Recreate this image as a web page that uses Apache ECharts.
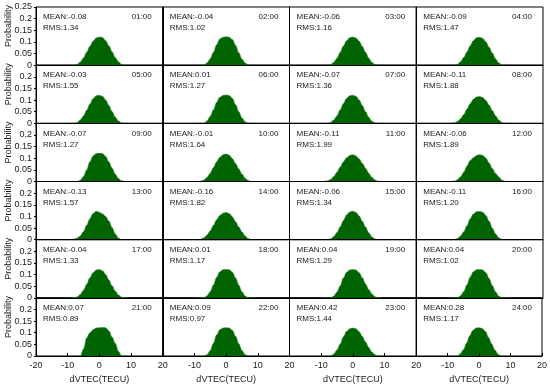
<!DOCTYPE html>
<html>
<head>
<meta charset="utf-8">
<script src="https://cdn.jsdelivr.net/npm/echarts@6/dist/echarts.min.js"></script>
<style>html,body{margin:0;padding:0;background:#fff}#c{width:550px;height:385px}</style>
</head>
<body>
<div id="c"></div>
<script>
// ---- data ----
const bins = [-9,-8,-7,-6,-5,-4,-3,-2,-1,0,1,2,3,4,5,6,7,8,9];
const hours = ['01:00','02:00','03:00','04:00','05:00','06:00','07:00','08:00','09:00','10:00','11:00','12:00',
               '13:00','14:00','15:00','16:00','17:00','18:00','19:00','20:00','21:00','22:00','23:00','24:00'];
const means = ['-0.08','-0.04','-0.06','-0.09','-0.03','0.01','-0.07','-0.11','-0.07','-0.01','-0.11','-0.06',
               '-0.13','-0.16','-0.06','-0.11','-0.04','0.01','0.04','0.04','0.07','0.09','0.42','0.28'];
const rmsVals = ['1.34','1.02','1.16','1.47','1.55','1.27','1.36','1.88','1.27','1.64','1.99','1.89',
                 '1.57','1.82','1.34','1.20','1.33','1.17','1.29','1.02','0.89','0.97','1.44','1.17'];
const xTicks = [-20,-10,0,10,20];
const yTicks = [0,0.05,0.1,0.15,0.2,0.25];

const p01 = [0,0,0.004,0.014,0.031,0.056,0.081,0.103,0.117,0.121,0.119,0.105,0.083,0.058,0.033,0.015,0.004,0,0];
const p02 = [0,0,0,0.010,0.028,0.055,0.088,0.113,0.120,0.122,0.120,0.110,0.085,0.053,0.026,0.009,0,0,0];
const p03 = [0,0,0.003,0.013,0.030,0.055,0.082,0.105,0.118,0.121,0.117,0.103,0.080,0.055,0.030,0.012,0.003,0,0];
const p04 = [0,0,0.004,0.015,0.033,0.057,0.083,0.105,0.118,0.120,0.115,0.100,0.077,0.052,0.028,0.010,0.002,0,0];
const p05 = [0,0,0.004,0.015,0.032,0.056,0.083,0.106,0.119,0.121,0.116,0.100,0.077,0.051,0.027,0.010,0.002,0,0];
const p06 = [0,0,0,0.011,0.030,0.058,0.090,0.112,0.120,0.122,0.120,0.107,0.080,0.050,0.023,0.007,0,0,0];
const p07 = [0,0,0.004,0.015,0.033,0.058,0.085,0.107,0.119,0.121,0.116,0.100,0.076,0.050,0.026,0.009,0.002,0,0];
const p08 = [0,0.002,0.008,0.020,0.038,0.061,0.084,0.103,0.113,0.115,0.111,0.098,0.078,0.055,0.033,0.015,0.004,0,0];
const p09 = [0,0,0,0.006,0.022,0.050,0.085,0.110,0.120,0.121,0.120,0.108,0.085,0.058,0.032,0.013,0.003,0,0];
const p10 = [0,0.001,0.006,0.018,0.036,0.060,0.085,0.104,0.115,0.118,0.113,0.098,0.077,0.054,0.032,0.014,0.004,0,0];
const p11 = [0,0.003,0.009,0.022,0.040,0.062,0.084,0.102,0.112,0.115,0.110,0.097,0.078,0.057,0.036,0.018,0.006,0.001,0];
const p12 = [0,0.002,0.008,0.020,0.040,0.066,0.090,0.102,0.112,0.115,0.112,0.100,0.080,0.056,0.035,0.020,0.006,0.001,0];
const p13 = [0,0.002,0.007,0.017,0.035,0.062,0.090,0.112,0.122,0.118,0.110,0.100,0.080,0.052,0.025,0.007,0,0,0];
const p14 = [0,0.002,0.008,0.020,0.038,0.062,0.086,0.104,0.114,0.117,0.112,0.098,0.077,0.054,0.033,0.016,0.005,0,0];
const p15 = [0,0,0.004,0.014,0.031,0.055,0.082,0.106,0.119,0.122,0.117,0.102,0.079,0.054,0.030,0.012,0.003,0,0];
const p16 = [0,0.001,0.005,0.016,0.034,0.060,0.089,0.110,0.120,0.121,0.118,0.104,0.079,0.050,0.025,0.008,0.001,0,0];
const p17 = [0,0,0.004,0.015,0.033,0.058,0.086,0.108,0.120,0.122,0.116,0.100,0.077,0.052,0.029,0.012,0.003,0,0];
const p18 = [0,0,0,0.009,0.027,0.055,0.088,0.112,0.121,0.122,0.121,0.110,0.085,0.054,0.026,0.008,0,0,0];
const p19 = [0,0,0,0.008,0.025,0.052,0.085,0.110,0.120,0.122,0.120,0.108,0.086,0.060,0.036,0.017,0.005,0,0];
const p20 = [0,0,0,0.009,0.027,0.056,0.089,0.112,0.121,0.122,0.120,0.108,0.083,0.053,0.026,0.008,0,0,0];
const p21 = [0,0,0,0,0.030,0.078,0.100,0.113,0.120,0.121,0.122,0.121,0.108,0.082,0.055,0.020,0.001,0,0];
const p22 = [0,0,0,0.006,0.024,0.055,0.090,0.113,0.120,0.121,0.120,0.110,0.085,0.053,0.024,0.006,0,0,0];
const p23 = [0,0,0,0.009,0.026,0.052,0.082,0.105,0.117,0.120,0.117,0.104,0.084,0.060,0.037,0.017,0.005,0,0];
const p24 = [0,0,0,0.009,0.027,0.055,0.087,0.110,0.120,0.121,0.118,0.105,0.080,0.052,0.026,0.008,0,0,0];
const panels = [p01,p02,p03,p04,p05,p06,p07,p08,p09,p10,p11,p12,p13,p14,p15,p16,p17,p18,p19,p20,p21,p22,p23,p24];

// ---- layout ----
const left0 = 36, colW = 126.75, top0 = 7, rowH = 58.17;
const nCols = 4, nRows = 6;
const FONT = '"Liberation Sans", Arial, sans-serif';
const TXT = '#1a1a1a';
const GREEN = '#006400';

const grids = [], xAxes = [], yAxes = [], series = [], graphics = [];
panels.forEach((vals, i) => {
  const r = Math.floor(i / nCols), c = i % nCols;
  const gl = left0 + c * colW, gt = top0 + r * rowH;
  grids.push({left: gl, top: gt, width: colW, height: rowH, show: true,
              borderColor: '#000', borderWidth: 1, backgroundColor: 'transparent'});
  const bottom = r === nRows - 1;
  xAxes.push({
    type: 'value', gridIndex: i, min: xTicks[0], max: xTicks[xTicks.length-1], interval: 10, z: 5,
    axisLine: {show: true, onZero: false, lineStyle: {color: '#000', width: 1}},
    axisTick: {show: bottom, inside: true, length: 3, lineStyle: {color: '#000'}},
    splitLine: {show: false},
    axisLabel: {show: bottom, showMinLabel: c === 0, fontSize: 9, color: TXT, fontFamily: FONT, margin: 5},
    name: bottom ? 'dVTEC(TECU)' : '', nameLocation: 'middle', nameGap: 19,
    nameTextStyle: {fontSize: 9, color: TXT, fontFamily: FONT}
  });
  yAxes.push({
    type: 'value', gridIndex: i, min: yTicks[0], max: yTicks[yTicks.length-1], interval: 0.05, z: 5,
    axisLine: {show: true, onZero: false, lineStyle: {color: '#000', width: 1}},
    axisTick: {show: c === 0, length: 2, lineStyle: {color: '#000'}},
    splitLine: {show: false},
    axisLabel: {show: c === 0, showMaxLabel: r === 0, fontSize: 9, color: TXT, fontFamily: FONT, margin: 4}
  });
  series.push({
    type: 'line', xAxisIndex: i, yAxisIndex: i, data: bins.map((b, k) => [b, vals[k]]),
    smooth: 0.35, smoothMonotone: 'x', symbol: 'none', silent: true,
    lineStyle: {color: '#2f8a2f', width: 0.6}, areaStyle: {color: GREEN, opacity: 1}
  });
  graphics.push({type: 'text', left: gl + 7, top: gt + 6,
    style: {text: 'MEAN:' + means[i], font: '8px ' + FONT, fill: TXT}});
  graphics.push({type: 'text', left: gl + 7, top: gt + 17,
    style: {text: 'RMS:' + rmsVals[i], font: '8px ' + FONT, fill: TXT}});
  graphics.push({type: 'text', right: 550 - (gl + colW) + 11, top: gt + 6,
    style: {text: hours[i], font: '8px ' + FONT, fill: TXT}});
});
for (let r = 0; r < nRows; r++) {
  graphics.push({type: 'text', x: 4, y: top0 + r * rowH + rowH / 2 - 10, rotation: Math.PI / 2,
    style: {text: 'Probability', font: '9px ' + FONT, fill: TXT, align: 'center', verticalAlign: 'top'}});
}

const chart = echarts.init(document.getElementById('c'), null, {renderer: 'canvas'});
chart.setOption({
  animation: false, backgroundColor: '#fff',
  grid: grids, xAxis: xAxes, yAxis: yAxes, series: series, graphic: graphics
});
</script>
</body>
</html>
